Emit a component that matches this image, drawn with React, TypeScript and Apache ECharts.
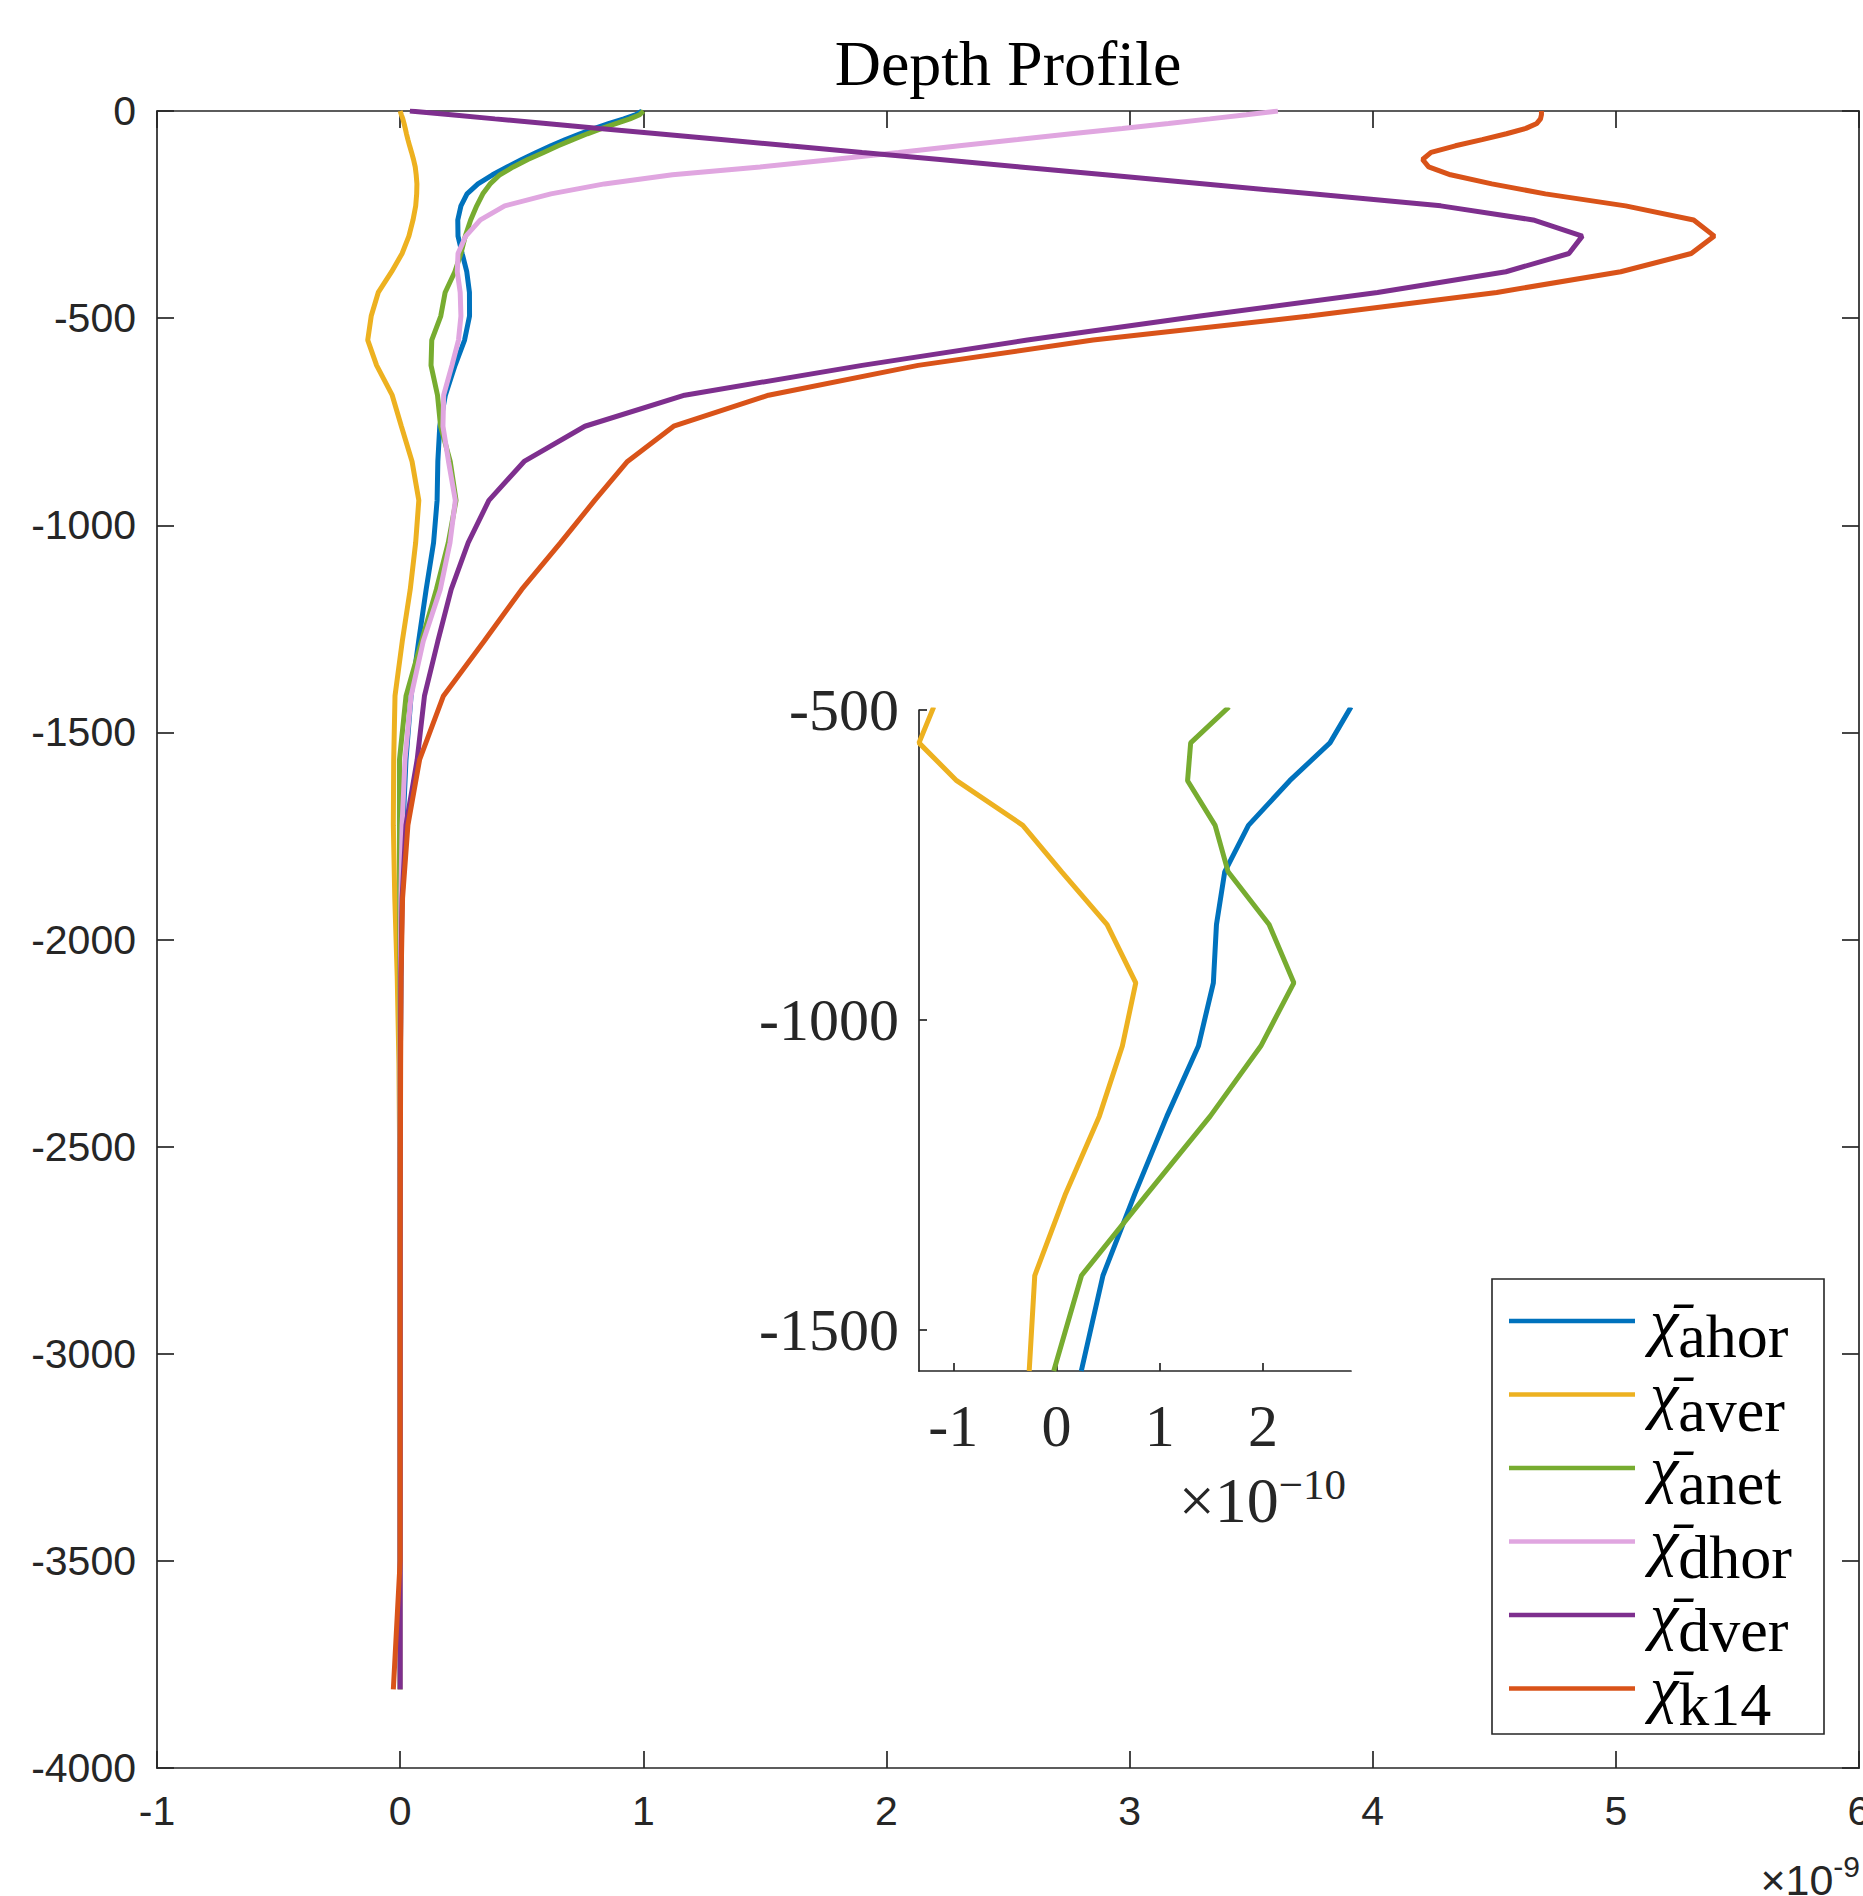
import React, { useEffect, useRef } from "react";
import * as echarts from "echarts";

// Depth levels (m)
const depthLevels = [
  0, -9, -19, -30, -42, -55, -69, -84, -100, -117, -135, -154, -176, -200, -229, -263, -302, -344, -388, -438,
  -495, -553, -614, -686, -761, -846, -940, -1042, -1155, -1280, -1412, -1566, -1724, -1900, -2090, -2300, -2520,
  -2750, -2990, -3240, -3500, -3810,
];

// Series values in units of 1e-9
const chiAhor = [
  0.994, 0.97, 0.92, 0.86, 0.8, 0.74, 0.68, 0.62, 0.56, 0.5, 0.44, 0.38, 0.32, 0.275, 0.25, 0.237, 0.238, 0.255, 0.274,
  0.285, 0.2854, 0.265, 0.226, 0.186, 0.163, 0.155, 0.152, 0.1375, 0.107, 0.076, 0.045, 0.024, 0.012, 0.006, 0.003, 0.001,
  0, 0, 0, 0, 0, 0,
];
const chiAver = [
  0, 0.005, 0.011, 0.016, 0.021, 0.026, 0.032, 0.039, 0.047, 0.055, 0.062, 0.066, 0.069, 0.068, 0.064, 0.053, 0.036, 0.008,
  -0.035, -0.09, -0.119, -0.1333, -0.0968, -0.0327, 0.005, 0.049, 0.0768, 0.0638, 0.0415, 0.0088, -0.0211, -0.0265, -0.028,
  -0.022, -0.012, -0.005, -0.002, 0, 0, 0, 0, 0,
];
const chiAnet = [
  1.001, 0.985, 0.945, 0.89, 0.83, 0.77, 0.71, 0.65, 0.59, 0.525, 0.465, 0.41, 0.37, 0.34, 0.315, 0.29, 0.268, 0.25, 0.225,
  0.185, 0.1671, 0.13, 0.127, 0.1537, 0.1663, 0.206, 0.23, 0.198, 0.149, 0.088, 0.0242, -0.0027, -0.003, -0.002, -0.001,
  0, 0, 0, 0, 0, 0, 0,
];
const chiDhor = [
  3.61, 3.48, 3.33, 3.16, 2.97, 2.76, 2.54, 2.3, 2.05, 1.78, 1.48, 1.12, 0.84, 0.62, 0.43, 0.33, 0.27, 0.238, 0.235, 0.247,
  0.25, 0.24, 0.213, 0.179, 0.176, 0.199, 0.227, 0.205, 0.165, 0.095, 0.045, 0.02, 0.008, 0.003, 0.001, 0, 0, 0, 0, 0, 0, 0,
];
const chiDver = [
  0.04, 0.21, 0.39, 0.6, 0.82, 1.06, 1.32, 1.6, 1.9, 2.22, 2.55, 2.9, 3.31, 3.75, 4.28, 4.66, 4.862, 4.807, 4.548, 4.02,
  3.29, 2.58, 1.9, 1.17, 0.76, 0.51, 0.365, 0.28, 0.21, 0.155, 0.1, 0.07, 0.024, 0.008, 0.003, 0.001, 0, 0, 0, 0, 0, 0,
];
const chiK14 = [
  4.694, 4.694, 4.69, 4.675, 4.63, 4.55, 4.45, 4.34, 4.24, 4.205, 4.23, 4.32, 4.49, 4.71, 5.04, 5.32, 5.405, 5.31, 5.02,
  4.51, 3.74, 2.85, 2.13, 1.515, 1.125, 0.935, 0.8, 0.66, 0.5, 0.345, 0.178, 0.08, 0.032, 0.01, 0.004, 0.002, 0.001, 0, 0,
  0, 0, -0.028,
];

const seriesNames = ["ahor", "aver", "anet", "dhor", "dver", "k14"];
const seriesValues = [chiAhor, chiAver, chiAnet, chiDhor, chiDver, chiK14];
const seriesColors = ["#0072BD", "#EDB120", "#77AC30", "#E0A6E0", "#7E2F8E", "#D95319"];

// Inset: same data for depths -495 .. -1566 (indices 20..31), shown in units of 1e-10
const insetNames = ["ahor", "aver", "anet"];
const insetFirstIndex = 20;
const insetLastIndex = 31;
const insetUnitFactor = 10; // 1e-9 -> 1e-10
const insetXTicks = [-1, 0, 1, 2];
const insetYTicks = [-1500, -1000, -500];

const AX = "#262626";
const SANS = "Liberation Sans, Arial, Helvetica, sans-serif";
const SERIF = "Liberation Serif, Times New Roman, serif";
const LINE_W = 5;

export default function App() {
  const ref = useRef<HTMLDivElement>(null);
  useEffect(() => {
    const chart = echarts.init(ref.current as HTMLDivElement, null, { renderer: "svg" });

    const mainSeries = seriesNames.map((name, k) => ({
      name,
      type: "line",
      xAxisIndex: 0,
      yAxisIndex: 0,
      data: seriesValues[k].map((v, i) => [v, depthLevels[i]]),
      symbol: "none",
      showSymbol: false,
      clip: true,
      itemStyle: { color: seriesColors[k] },
      lineStyle: { color: seriesColors[k], width: LINE_W },
      z: 2 + k * 0.01,
    }));

    const insetSeries = insetNames.map((name) => {
      const k = seriesNames.indexOf(name);
      const data: number[][] = [];
      for (let i = insetFirstIndex; i <= insetLastIndex; i++) {
        data.push([seriesValues[k][i] * insetUnitFactor, depthLevels[i]]);
      }
      return {
        name,
        type: "line",
        xAxisIndex: 2,
        yAxisIndex: 2,
        data,
        symbol: "none",
        showSymbol: false,
        clip: true,
        itemStyle: { color: seriesColors[k] },
        lineStyle: { color: seriesColors[k], width: LINE_W },
        z: 3,
      };
    });

    const lineSt = { color: AX, width: 1.7 };

    const option: any = {
      animation: false,
      backgroundColor: "#ffffff",
      title: {
        text: "Depth Profile",
        left: 1008,
        top: 31,
        padding: 0,
        textAlign: "center",
        textStyle: { fontFamily: SERIF, fontSize: 64, fontWeight: "normal", color: "#000" },
      },
      grid: [
        { left: 157, top: 111, width: 1702, height: 1657, containLabel: false, outerBoundsMode: "none", show: false },
        { left: 919, top: 710, width: 432, height: 661, containLabel: false, outerBoundsMode: "none", show: false },
      ],
      xAxis: [
        {
          type: "value",
          gridIndex: 0,
          position: "bottom",
          min: -1,
          max: 6,
          interval: 1,
          axisLine: { show: true, onZero: false, lineStyle: lineSt },
          axisTick: { show: true, inside: true, length: 17, lineStyle: lineSt },
          axisLabel: { show: true, margin: 22, color: AX, fontSize: 41, fontFamily: SANS, formatter: (v: number) => String(v) },
          splitLine: { show: false },
        },
        {
          type: "value",
          gridIndex: 0,
          position: "top",
          min: -1,
          max: 6,
          interval: 1,
          axisLine: { show: true, onZero: false, lineStyle: lineSt },
          axisTick: { show: true, inside: true, length: 17, lineStyle: lineSt },
          axisLabel: { show: false },
          splitLine: { show: false },
        },
        {
          type: "value",
          gridIndex: 1,
          position: "bottom",
          min: "dataMin",
          max: "dataMax",
          axisLine: { show: true, onZero: false, lineStyle: lineSt },
          axisTick: { show: true, inside: true, length: 8, customValues: insetXTicks, lineStyle: lineSt },
          axisLabel: {
            show: true,
            customValues: insetXTicks,
            margin: 25,
            color: AX,
            fontSize: 60,
            fontFamily: SERIF,
            formatter: (v: number) => String(v),
          },
          splitLine: { show: false },
        },
      ],
      yAxis: [
        {
          type: "value",
          gridIndex: 0,
          position: "left",
          min: -4000,
          max: 0,
          interval: 500,
          axisLine: { show: true, onZero: false, lineStyle: lineSt },
          axisTick: { show: true, inside: true, length: 17, lineStyle: lineSt },
          axisLabel: { show: true, margin: 21, color: AX, fontSize: 41, fontFamily: SANS, formatter: (v: number) => String(v) },
          splitLine: { show: false },
        },
        {
          type: "value",
          gridIndex: 0,
          position: "right",
          min: -4000,
          max: 0,
          interval: 500,
          axisLine: { show: true, onZero: false, lineStyle: lineSt },
          axisTick: { show: true, inside: true, length: 17, lineStyle: lineSt },
          axisLabel: { show: false },
          splitLine: { show: false },
        },
        {
          type: "value",
          gridIndex: 1,
          position: "left",
          min: "dataMin",
          max: -500,
          axisLine: { show: true, onZero: false, lineStyle: lineSt },
          axisTick: { show: true, inside: true, length: 8, customValues: insetYTicks, lineStyle: lineSt },
          axisLabel: {
            show: true,
            customValues: insetYTicks,
            margin: 20,
            color: AX,
            fontSize: 60,
            fontFamily: SERIF,
            formatter: (v: number) => String(v),
          },
          splitLine: { show: false },
        },
      ],
      legend: {
        orient: "vertical",
        left: 1492,
        top: 1263,
        padding: [12, 10, 10, 17],
        itemGap: -18.5,
        itemWidth: 126,
        itemHeight: 4.5,
        icon: "rect",
        itemStyle: { borderWidth: 0 },
        selectedMode: false,
        z: 10,
        data: seriesNames,
        formatter: (name: string) => `{c|\u03C7\u0304}{s|${name}}`,
        textStyle: {
          color: "#000",
          fontFamily: SERIF,
          fontSize: 62,
          rich: {
            c: { fontFamily: SERIF, fontStyle: "italic", fontSize: 64, lineHeight: 60, padding: [0, 0, 0, 10], color: "#000" },
            s: { fontFamily: SERIF, fontSize: 62, lineHeight: 60, padding: [30, 0, 0, 0], color: "#000" },
          },
        },
      },
      graphic: [
        {
          type: "rect",
          z: 5,
          shape: { x: 1492, y: 1279, width: 332, height: 455 },
          style: { fill: "#ffffff", stroke: AX, lineWidth: 1.6 },
        },
        {
          type: "text",
          z: 5,
          x: 1860,
          y: 1880,
          style: {
            text: "{a|\u00D710}{b|-9}",
            align: "right",
            verticalAlign: "middle",
            fill: AX,
            rich: {
              a: { fontFamily: SANS, fontSize: 43, lineHeight: 42, fill: AX },
              b: { fontFamily: SANS, fontSize: 30, lineHeight: 42, padding: [0, 0, 28, 0], fill: AX },
            },
          },
        },
        {
          type: "text",
          z: 5,
          x: 1346,
          y: 1500,
          style: {
            text: "{a|\u00D710}{b|\u221210}",
            align: "right",
            verticalAlign: "middle",
            fill: AX,
            rich: {
              a: { fontFamily: SERIF, fontSize: 64, lineHeight: 60, fill: AX },
              b: { fontFamily: SERIF, fontSize: 43, lineHeight: 60, padding: [0, 0, 31, 0], fill: AX },
            },
          },
        },
      ],
      series: [...mainSeries, ...insetSeries],
    };

    chart.setOption(option);
    return () => chart.dispose();
  }, []);

  return (
    <div
      ref={ref}
      style={{ position: "absolute", left: 0, top: 0, width: 1863, height: 1896, background: "#ffffff" }}
    />
  );
}
